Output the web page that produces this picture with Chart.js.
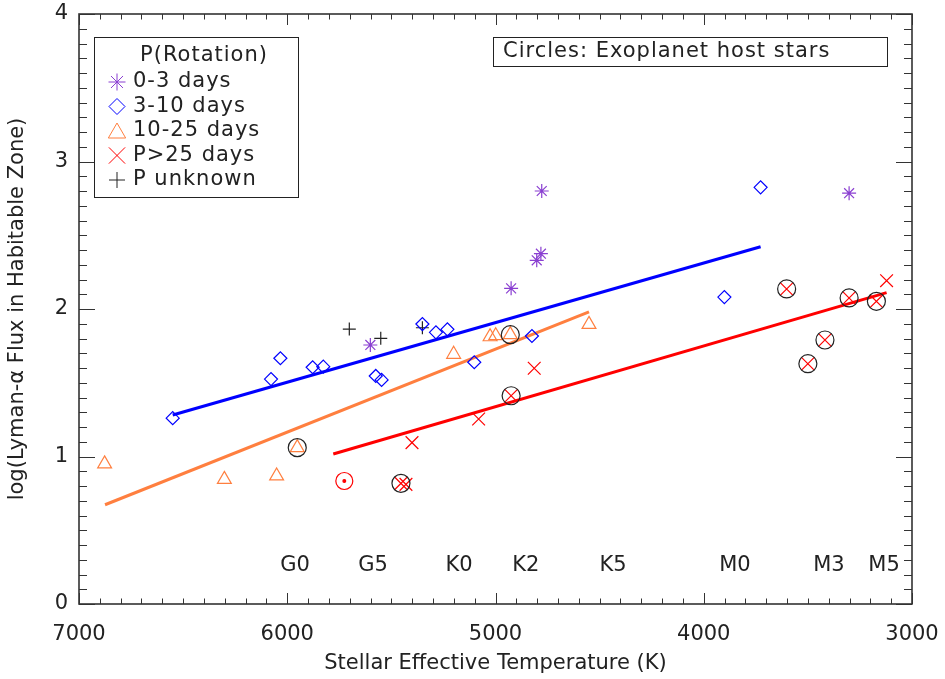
<!DOCTYPE html>
<html>
<head>
<meta charset="utf-8">
<script src="https://cdn.jsdelivr.net/npm/chart.js@4.4.1/dist/chart.umd.min.js"></script>
<style>
  html, body { margin: 0; background: #fff; }
</style>
</head>
<body>
<canvas id="c" width="945" height="679"></canvas>
<script>
// P(Rotation) 0-3 days
const fastTemp = [4778, 4782, 4802, 4925, 5601, 3302];
const fastFlux = [2.80, 2.375, 2.33, 2.14, 1.756, 2.785];
// 3-10 days
const midTemp = [6550, 6078, 6033, 5878, 5827, 5575, 5547, 5351, 5286, 5231, 5102, 4825, 3727, 3901];
const midFlux = [1.26, 1.525, 1.666, 1.605, 1.609, 1.546, 1.519, 1.898, 1.842, 1.862, 1.639, 1.817, 2.825, 2.081];
// 10-25 days
const slowTemp = [6877, 6302, 6051, 5952, 5201, 5026, 4999, 4929, 4551];
const slowFlux = [0.95, 0.845, 0.868, 1.06, 1.693, 1.812, 1.819, 1.826, 1.896];
// P > 25 days
const oldTemp = [4925, 5081, 5401, 5454, 5430, 4814, 3602, 3302, 3171, 3122, 3418, 3500];
const oldFlux = [1.412, 1.254, 1.094, 0.818, 0.811, 1.598, 2.136, 2.075, 2.052, 2.192, 1.79, 1.629];
// P unknown
const unkTemp = [5702, 5551, 5351];
const unkFlux = [1.864, 1.801, 1.873];
// exoplanet host stars (circled)
const hostTemp = [5952, 4929, 4925, 5454, 3602, 3302, 3171, 3418, 3500];
const hostFlux = [1.06, 1.826, 1.412, 0.818, 2.136, 2.075, 2.052, 1.79, 1.629];
// the Sun
const sunTemp = [5726];
const sunFlux = [0.834];

// fitted lines
const fitMidTemp = [6550, 3727];
const fitMidFlux = [1.281, 2.422];
const fitSlowTemp = [6875, 4551];
const fitSlowFlux = [0.673, 1.980];
const fitOldTemp = [5779, 3122];
const fitOldFlux = [1.017, 2.111];

// spectral types along the bottom
const spTypes = ['G0', 'G5', 'K0', 'K2', 'K5', 'M0', 'M3', 'M5'];
const spTemp = [5963, 5588, 5175, 4854, 4436, 3850, 3399, 3134];
const spLevel = 0.26;

const xTicks = [7000, 6000, 5000, 4000, 3000];
const yTicks = [0, 1, 2, 3, 4];

const FONT = '"DejaVu Sans", sans-serif';
const INK = '#222';
const PURPLE = '#8a3fd1', BLUE = '#0000ff', ORANGE = '#ff7f3f', RED = '#ff0000';

const pts = (xs, ys) => xs.map((x, i) => ({ x, y: ys[i] }));

function marker(label, xs, ys, style, color, r, fill) {
    return {
        label, data: pts(xs, ys), showLine: false,
        pointStyle: style, pointRadius: r, pointHoverRadius: r,
        pointBorderColor: color, pointBackgroundColor: fill || 'transparent', pointBorderWidth: 1.2
    };
}
function fit(label, xs, ys, color) {
    return { label, data: pts(xs, ys), showLine: true, borderColor: color, borderWidth: 3, pointRadius: 0, fill: false };
}

const legendItems = [
    { text: '0-3 days', style: 'star', color: PURPLE, r: 8.5 },
    { text: '3-10 days', style: 'rectRot', color: BLUE, r: 8 },
    { text: '10-25 days', style: 'triangle', color: ORANGE, r: 10 },
    { text: 'P>25 days', style: 'crossRot', color: RED, r: 11.5 },
    { text: 'P unknown', style: 'cross', color: INK, r: 8 },
];

// inward ticks on all four sides + frame
const idlAxes = {
    id: 'idlAxes',
    afterDatasetsDraw(chart) {
        const { ctx: g, chartArea: a, scales: { x, y } } = chart;
        g.save();
        g.strokeStyle = '#333';
        g.lineWidth = 1;
        g.beginPath();
        for (let t = 3000; t <= 7000; t += 100) {
            const px = Math.round(x.getPixelForValue(t)) + 0.5;
            const len = t % 1000 === 0 ? 11 : 5.5;
            g.moveTo(px, a.bottom); g.lineTo(px, a.bottom - len);
            g.moveTo(px, a.top); g.lineTo(px, a.top + len);
        }
        for (let k = 0; k <= 40; k++) {
            const py = Math.round(y.getPixelForValue(k / 10)) + 0.5;
            const len = k % 10 === 0 ? 16 : 8;
            g.moveTo(a.left, py); g.lineTo(a.left + len, py);
            g.moveTo(a.right, py); g.lineTo(a.right - len, py);
        }
        g.stroke();
        g.lineWidth = 1.6;
        g.strokeRect(a.left, a.top, a.right - a.left, a.bottom - a.top);

        // spectral type labels
        g.fillStyle = INK;
        g.font = '21px ' + FONT;
        g.textAlign = 'center';
        g.textBaseline = 'middle';
        spTypes.forEach((s, i) => g.fillText(s, x.getPixelForValue(spTemp[i]), y.getPixelForValue(spLevel)));
        g.restore();
    }
};

// boxed legend + note
const boxes = {
    id: 'boxes',
    afterDraw(chart) {
        const { ctx: g, chartArea: a } = chart;
        g.save();
        g.strokeStyle = INK;
        g.lineWidth = 1;
        g.font = '21px ' + FONT;
        g.letterSpacing = '1px';
        g.textBaseline = 'middle';

        const L = a.left + 15, T = a.top + 23;
        g.strokeRect(L + 0.5, T + 0.5, 204, 160);
        g.fillStyle = INK;
        g.textAlign = 'center';
        g.fillText('P(Rotation)', L + 110, T + 19);
        g.textAlign = 'left';
        legendItems.forEach((it, i) => {
            const cy = T + 45 + i * 24.5;
            g.strokeStyle = it.color;
            g.fillStyle = 'rgba(0,0,0,0)';
            Chart.helpers.drawPoint(g, { pointStyle: it.style, radius: it.r, rotation: 0, borderWidth: 1.2 }, L + 23, it.style === 'triangle' ? cy + 2 : cy);
            g.fillStyle = INK;
            g.fillText(it.text, L + 39, cy);
        });

        const R = a.right - 25, W = 394;
        g.strokeStyle = INK;
        g.lineWidth = 1;
        g.strokeRect(R - W + 0.5, T + 0.5, W, 29);
        g.fillStyle = INK;
        g.fillText('Circles: Exoplanet host stars', R - W + 10, T + 15);
        g.restore();
    }
};

// keep the plot frame where the layout padding puts it
function noLabelPadding(s) {
    s.paddingLeft = 0; s.paddingRight = 0; s.paddingTop = 0; s.paddingBottom = 0;
}

new Chart(document.getElementById('c'), {
    type: 'scatter',
    data: {
        datasets: [
            marker('Exoplanet hosts', hostTemp, hostFlux, 'circle', INK, 9),
            marker('0-3 days', fastTemp, fastFlux, 'star', PURPLE, 7),
            marker('3-10 days', midTemp, midFlux, 'rectRot', BLUE, 6.5),
            marker('10-25 days', slowTemp, slowFlux, 'triangle', ORANGE, 8),
            marker('P>25 days', oldTemp, oldFlux, 'crossRot', RED, 9),
            marker('P unknown', unkTemp, unkFlux, 'cross', INK, 6.5),
            marker('Sun', sunTemp, sunFlux, 'circle', RED, 8.5),
            marker('Sun centre', sunTemp, sunFlux, 'circle', RED, 1.4, RED),
            fit('fit 3-10', fitMidTemp, fitMidFlux, BLUE),
            fit('fit 10-25', fitSlowTemp, fitSlowFlux, ORANGE),
            fit('fit >25', fitOldTemp, fitOldFlux, RED),
        ]
    },
    options: {
        responsive: false,
        animation: false,
        events: [],
        layout: { padding: { top: 14, right: 33, left: 0, bottom: 0 } },
        plugins: { legend: { display: false }, tooltip: { enabled: false } },
        scales: {
            x: {
                type: 'linear', min: 3000, max: 7000, reverse: true,
                afterFit(s) { s.height = 75; noLabelPadding(s); },
                afterBuildTicks(s) { s.ticks = xTicks.map(v => ({ value: v })); },
                grid: { display: false, drawTicks: false },
                border: { display: false },
                ticks: { padding: 18, color: INK, font: { family: FONT, size: 21 }, callback: v => String(v), maxRotation: 0 },
                title: { display: true, text: 'Stellar Effective Temperature (K)', color: INK, font: { family: FONT, size: 21 }, padding: { top: 0, bottom: 3 } }
            },
            y: {
                type: 'linear', min: 0, max: 4,
                afterFit(s) { s.width = 79; noLabelPadding(s); },
                afterBuildTicks(s) { s.ticks = yTicks.map(v => ({ value: v })); },
                grid: { display: false, drawTicks: false },
                border: { display: false },
                ticks: { padding: 11, color: INK, font: { family: FONT, size: 21 }, callback: v => String(v) },
                title: { display: true, text: 'log(Lyman-α Flux in Habitable Zone)', color: INK, font: { family: FONT, size: 21 }, padding: { top: 5, bottom: 0 } }
            }
        }
    },
    plugins: [idlAxes, boxes]
});
</script>
</body>
</html>
